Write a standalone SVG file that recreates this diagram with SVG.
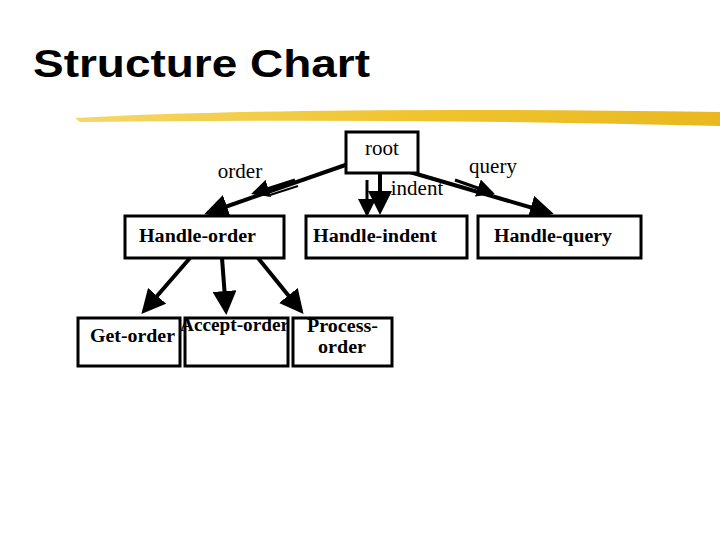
<svg xmlns="http://www.w3.org/2000/svg" width="720" height="540" viewBox="0 0 720 540">
<defs>
<marker id="ah" markerWidth="6" markerHeight="6" refX="5" refY="3" orient="auto" markerUnits="strokeWidth"><path d="M0,0 L6,3 L0,6 z" fill="#000"/></marker>
<linearGradient id="brush" x1="0" x2="1"><stop offset="0" stop-color="#f5d76a"/><stop offset="0.5" stop-color="#f0c530"/><stop offset="1" stop-color="#e9b820"/></linearGradient>
<style>
.box{fill:#fff;stroke:#000;stroke-width:3}
.t{font-family:"Liberation Serif",serif;font-weight:bold;font-size:18px;fill:#000}
.l{font-family:"Liberation Serif",serif;font-size:21px;fill:#000}
.c{stroke:#000;stroke-width:4;fill:none;marker-end:url(#ah)}
.f{stroke:#000;stroke-width:3;fill:none;marker-end:url(#ah)}
</style>
</defs>
<rect width="720" height="540" fill="#fff"/>
<text x="33" y="77" font-family="Liberation Sans,sans-serif" font-weight="bold" font-size="38" textLength="337" lengthAdjust="spacingAndGlyphs">Structure Chart</text>
<path d="M75,118 Q300,106 720,112 L720,126 Q400,118 80,122 z" fill="url(#brush)"/>
<g id="connectors">
<line class="c" x1="354" y1="162" x2="208" y2="213"/>
<line class="c" x1="380" y1="173" x2="380" y2="211"/>
<line class="c" x1="403" y1="170" x2="550" y2="213"/>
<line class="c" x1="190" y1="258" x2="144" y2="311"/>
<line class="c" x1="222" y1="258" x2="226" y2="311"/>
<line class="c" x1="258" y1="258" x2="301" y2="311"/>
<line class="f" x1="295" y1="180" x2="254" y2="193"/>
<line x1="298" y1="186" x2="270" y2="195" stroke="#000" stroke-width="2"/>
<line class="f" x1="367" y1="180" x2="367" y2="214"/>
<line class="f" x1="455" y1="180" x2="492" y2="193"/>
</g>
<g id="root"><rect class="box" x="346" y="132" width="72" height="41"/><text class="l" x="382" y="155" text-anchor="middle">root</text></g>
<g id="handle-order"><rect class="box" x="125" y="216" width="159" height="42"/><text class="t" x="139" y="242" textLength="117" lengthAdjust="spacingAndGlyphs">Handle-order</text></g>
<g id="handle-indent"><rect class="box" x="306" y="216" width="161" height="42"/><text class="t" x="313" y="242" textLength="124" lengthAdjust="spacingAndGlyphs">Handle-indent</text></g>
<g id="handle-query"><rect class="box" x="478" y="216" width="163" height="42"/><text class="t" x="494" y="242" textLength="118" lengthAdjust="spacingAndGlyphs">Handle-query</text></g>
<g id="get-order"><rect class="box" x="78" y="318" width="102" height="48"/><text class="t" x="90" y="342" textLength="85" lengthAdjust="spacingAndGlyphs">Get-order</text></g>
<g id="accept-order"><rect class="box" x="185" y="318" width="103" height="48"/><text class="t" x="180" y="331" textLength="109" lengthAdjust="spacingAndGlyphs">Accept-order</text></g>
<g id="process-order"><rect class="box" x="293" y="318" width="99" height="48"/><text class="t" x="307" y="332" textLength="71" lengthAdjust="spacingAndGlyphs">Process-</text><text class="t" x="318" y="353" textLength="48" lengthAdjust="spacingAndGlyphs">order</text></g>
<g id="labels">
<text class="l" x="240" y="178" text-anchor="middle">order</text>
<text class="l" x="417" y="195" text-anchor="middle">indent</text>
<text class="l" x="493" y="173" text-anchor="middle">query</text>
</g>
</svg>
